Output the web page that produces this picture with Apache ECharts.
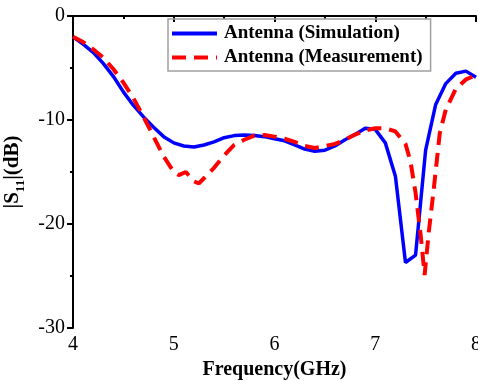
<!DOCTYPE html>
<html>
<head>
<meta charset="utf-8">
<script src="https://cdn.jsdelivr.net/npm/echarts@6/dist/echarts.min.js"></script>
<style>
html, body { margin: 0; padding: 0; background: #fff; }
#chart { width: 478px; height: 381px; }
</style>
</head>
<body>
<div id="chart"></div>
<script>
// simulated |S11|
const simFreq = [4.0, 4.1, 4.2, 4.3, 4.4, 4.5, 4.6, 4.7, 4.8, 4.9, 5.0, 5.1, 5.2, 5.3, 5.4, 5.5, 5.6, 5.7, 5.8, 5.9,
    6.0, 6.1, 6.2, 6.3, 6.4, 6.5, 6.6, 6.7, 6.8, 6.9, 7.0, 7.1, 7.2, 7.3, 7.4, 7.5, 7.6, 7.7, 7.8, 7.9, 8.0];
const simS11 = [-2.0, -2.7, -3.5, -4.55, -5.8, -7.3, -8.6, -9.7, -10.7, -11.6, -12.2, -12.5, -12.6, -12.4, -12.1, -11.7, -11.5, -11.45, -11.5, -11.6,
    -11.8, -12.0, -12.4, -12.8, -13.0, -12.9, -12.5, -11.9, -11.4, -10.8, -10.9, -12.2, -15.4, -23.7, -23.0, -12.9, -8.5, -6.5, -5.5, -5.3, -5.9];

// measured |S11|
const measFreq = [4.0, 4.1, 4.2, 4.3, 4.4, 4.5, 4.6, 4.7, 4.8, 4.9, 5.0, 5.05, 5.12, 5.2, 5.25, 5.3, 5.4, 5.5, 5.6, 5.7, 5.8, 5.9,
    6.0, 6.1, 6.2, 6.3, 6.4, 6.5, 6.6, 6.7, 6.8, 6.9, 7.0, 7.1, 7.2, 7.3, 7.35, 7.4, 7.45, 7.49, 7.53, 7.58, 7.64, 7.7, 7.8, 7.9, 8.0];
const measS11 = [-2.0, -2.5, -3.2, -4.0, -5.1, -6.4, -7.9, -9.7, -11.6, -13.5, -15.0, -15.3, -15.0, -15.9, -16.1, -15.6, -14.6, -13.4, -12.4, -11.9, -11.5, -11.45,
    -11.6, -11.8, -12.1, -12.5, -12.7, -12.5, -12.3, -11.9, -11.4, -11.0, -10.8, -10.8, -11.1, -12.3, -14.0, -17.0, -21.0, -24.9, -20.9, -16.7, -11.3, -9.0, -7.0, -6.1, -5.7];

const xTicks = [4, 5, 6, 7, 8];
const yTicks = [-30, -20, -10, 0];

function pairs(xs, ys) {
    return xs.map((x, i) => [x, ys[i]]);
}

const serif = "'Liberation Serif', 'Times New Roman', serif";

let chart = echarts.init(document.getElementById('chart'));
chart.setOption({
    animation: false,
    textStyle: { fontFamily: serif },
    grid: { left: 73, right: 2, top: 16, bottom: 53, outerBoundsMode: 'none', containLabel: false },
    legend: {
        left: 168,
        top: 19,
        orient: 'vertical',
        itemWidth: 45,
        itemHeight: 14,
        itemGap: 5,
        padding: [5, 8, 4, 2],
        borderColor: '#a0a0a0',
        borderWidth: 1.5,
        itemStyle: { opacity: 0 },
        lineStyle: { width: 4 },
        textStyle: { fontFamily: serif, fontWeight: 'bold', fontSize: 19, color: '#000', padding: [0, 0, 0, 2] },
        data: ['Antenna (Simulation)', 'Antenna (Measurement)']
    },
    xAxis: {
        type: 'value',
        min: xTicks[0],
        max: xTicks[xTicks.length - 1],
        interval: 1,
        name: 'Frequency(GHz)',
        nameLocation: 'middle',
        nameGap: 30,
        nameTextStyle: { fontFamily: serif, fontWeight: 'bold', fontSize: 20, color: '#000' },
        axisLine: { show: true, lineStyle: { color: '#000', width: 2 } },
        axisTick: { show: true, inside: false, length: 6, lineStyle: { color: '#000', width: 2 } },
        minorTick: { show: true, splitNumber: 2, length: 3, lineStyle: { color: '#000', width: 2 } },
        axisLabel: { fontFamily: serif, fontSize: 20, color: '#000', margin: 7 },
        splitLine: { show: false }
    },
    yAxis: {
        type: 'value',
        min: yTicks[0],
        max: yTicks[yTicks.length - 1],
        interval: 10,
        name: '{a||S}{b|11}{a||(dB)}',
        nameLocation: 'middle',
        nameGap: 43,
        nameRotate: 90,
        nameTextStyle: {
            fontFamily: serif, fontWeight: 'bold', fontSize: 21, color: '#000',
            rich: {
                a: { fontFamily: serif, fontWeight: 'bold', fontSize: 21, color: '#000', lineHeight: 24, verticalAlign: 'bottom' },
                b: { fontFamily: serif, fontWeight: 'bold', fontSize: 13, color: '#000', lineHeight: 24, verticalAlign: 'bottom', padding: [0, 0, -4, 0] }
            }
        },
        axisLine: { show: true, lineStyle: { color: '#000', width: 2 } },
        axisTick: { show: true, inside: false, length: 6, lineStyle: { color: '#000', width: 2 } },
        minorTick: { show: true, splitNumber: 2, length: 3, lineStyle: { color: '#000', width: 2 } },
        axisLabel: { fontFamily: serif, fontSize: 20, color: '#000', margin: 8 },
        splitLine: { show: false }
    },
    series: [
        {
            name: 'Antenna (Simulation)',
            type: 'line',
            symbol: 'none',
            color: '#0000ff',
            lineStyle: { color: '#0000ff', width: 3.5 },
            data: pairs(simFreq, simS11)
        },
        {
            name: 'Antenna (Measurement)',
            type: 'line',
            symbol: 'none',
            color: '#ff0000',
            lineStyle: { color: '#ff0000', width: 4, type: [14, 8] },
            data: pairs(measFreq, measS11)
        }
    ]
});
</script>
</body>
</html>
